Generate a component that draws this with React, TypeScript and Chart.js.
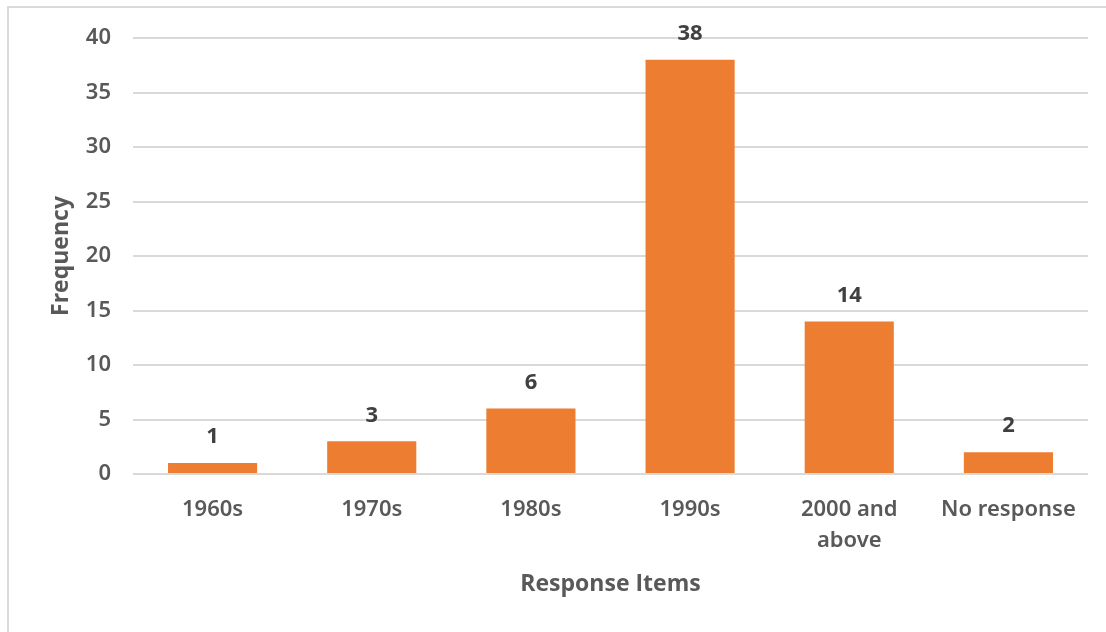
import React, { useEffect, useRef } from "react";
import { Chart, registerables } from "chart.js";

Chart.register(...registerables);

// Survey tallies by decade
const categories: (string | string[])[] = [
  "1960s",
  "1970s",
  "1980s",
  "1990s",
  ["2000 and", "above"],
  "No response",
];
const frequencies: number[] = [1, 3, 6, 38, 14, 2];
const yTicks: number[] = [0, 5, 10, 15, 20, 25, 30, 35, 40];

const FONT = "'Open Sans', 'Liberation Sans', sans-serif";
const TICK_FONT = "'Noto Sans', 'Open Sans', sans-serif";
const BAR = "#ED7D31";
const TEXT = "#595959";
const LABEL = "#404040";
const GRID = "#D9D9D9";

// Writes each bar's value just above it
const valueLabels = {
  id: "valueLabels",
  afterDatasetsDraw(chart: any) {
    const ctx = chart.ctx;
    const meta = chart.getDatasetMeta(0);
    const data = chart.data.datasets[0].data as number[];
    ctx.save();
    ctx.font = `bold 22px ${FONT}`;
    ctx.fillStyle = LABEL;
    ctx.textAlign = "center";
    ctx.textBaseline = "middle";
    meta.data.forEach((bar: any, i: number) => {
      ctx.fillText(String(data[i]), bar.x, bar.y - 26);
    });
    ctx.restore();
  },
};

export default function App() {
  const canvasRef = useRef<HTMLCanvasElement | null>(null);

  useEffect(() => {
    if (!canvasRef.current) return;
    const chart = new Chart(canvasRef.current, {
      type: "bar",
      data: {
        labels: categories,
        datasets: [
          {
            data: frequencies,
            backgroundColor: BAR,
            borderWidth: 0,
            categoryPercentage: 1,
            barPercentage: 0.56,
          },
        ],
      },
      options: {
        responsive: false,
        maintainAspectRatio: false,
        animation: false,
        layout: { padding: { top: 38, right: 18, bottom: 0, left: 0 } },
        plugins: {
          legend: { display: false },
          tooltip: { enabled: false },
        },
        scales: {
          x: {
            afterFit: (scale: any) => {
              scale.height = 158;
            },
            grid: { display: false, drawTicks: false },
            border: { display: false },
            ticks: {
              color: TEXT,
              font: { family: TICK_FONT, size: 22, weight: 600, lineHeight: 1.41 },
              padding: 20,
              maxRotation: 0,
              autoSkip: false,
            },
            title: {
              display: true,
              text: "Response Items",
              color: TEXT,
              font: { family: FONT, size: 23, weight: "bold", lineHeight: 1.2 },
              padding: { top: 0, bottom: 34 },
            },
          },
          y: {
            min: 0,
            max: 40,
            afterFit: (scale: any) => {
              scale.width = 133;
            },
            afterBuildTicks: (scale: any) => {
              scale.ticks = yTicks.map((v) => ({ value: v }));
            },
            grid: { color: GRID, lineWidth: 2, drawTicks: false },
            border: { display: false },
            ticks: {
              color: TEXT,
              font: { family: TICK_FONT, size: 22, weight: 600 },
              padding: 22,
            },
            title: {
              display: true,
              text: "Frequency",
              color: TEXT,
              font: { family: FONT, size: 23, weight: "bold", lineHeight: 1.2 },
              padding: { top: 48, bottom: 0 },
            },
          },
        },
      },
      plugins: [valueLabels],
    });
    return () => chart.destroy();
  }, []);

  return (
    <div
      style={{
        position: "absolute",
        left: 0,
        top: 0,
        width: 1106,
        height: 632,
        background: "#ffffff",
        overflow: "hidden",
      }}
    >
      <div
        style={{
          position: "absolute",
          left: 7,
          top: 6,
          right: 0,
          bottom: 0,
          borderLeft: "2px solid #D9D9D9",
          borderTop: "2px solid #D9D9D9",
        }}
      />
      <canvas
        ref={canvasRef}
        width={1106}
        height={632}
        style={{ position: "absolute", left: 0, top: 0 }}
      />
    </div>
  );
}
